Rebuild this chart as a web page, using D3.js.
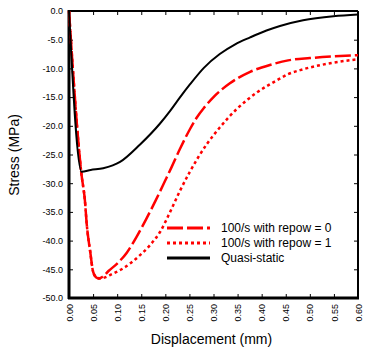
<!DOCTYPE html>
<html>
<head>
<meta charset="utf-8">
<script src="https://cdn.jsdelivr.net/npm/d3@7"></script>
<style>
  body { margin: 0; background: #fff; }
  svg { display: block; font-family: Arial, "Liberation Sans", sans-serif; }
</style>
</head>
<body>
<div id="chart"></div>
<script>
// displacement (mm) / stress (MPa)
const quasiX = [0.000, 0.026, 0.045, 0.071, 0.106, 0.147, 0.189, 0.210, 0.230, 0.251, 0.280, 0.313, 0.345, 0.376, 0.410, 0.438, 0.486, 0.549, 0.600];
const quasiY = [0.0, -28.0, -27.7, -27.4, -26.3, -23.3, -19.6, -17.4, -15.1, -12.8, -9.9, -7.5, -5.8, -4.6, -3.4, -2.6, -1.6, -0.9, -0.6];

const repow0X = [0.000, 0.026, 0.033, 0.037, 0.044, 0.050, 0.056, 0.062, 0.070, 0.082, 0.100, 0.120, 0.140, 0.160, 0.180, 0.200, 0.213, 0.230, 0.251, 0.265, 0.280, 0.300, 0.334, 0.376, 0.417, 0.455, 0.500, 0.550, 0.600];
const repow0Y = [0.0, -28.5, -33.0, -37.3, -41.9, -45.4, -46.4, -46.6, -46.3, -45.3, -44.0, -42.1, -39.4, -36.3, -33.0, -29.5, -27.2, -24.1, -20.6, -18.6, -16.9, -15.0, -12.6, -10.6, -9.4, -8.6, -8.2, -7.9, -7.7];

const repow1X = [0.000, 0.026, 0.033, 0.037, 0.044, 0.050, 0.056, 0.064, 0.075, 0.085, 0.113, 0.144, 0.168, 0.189, 0.210, 0.230, 0.251, 0.286, 0.313, 0.348, 0.390, 0.431, 0.455, 0.480, 0.542, 0.600];
const repow1Y = [0.0, -28.5, -33.0, -37.3, -41.9, -45.4, -46.3, -46.6, -46.4, -46.0, -44.8, -42.8, -40.8, -38.5, -35.0, -31.4, -28.0, -23.2, -20.3, -17.1, -14.2, -12.1, -11.0, -10.3, -9.1, -8.4];

const xTicks = [0, 0.05, 0.1, 0.15, 0.2, 0.25, 0.3, 0.35, 0.4, 0.45, 0.5, 0.55, 0.6];
const yTicks = [0, -5, -10, -15, -20, -25, -30, -35, -40, -45, -50];

const seriesNames = ["100/s with repow = 0", "100/s with repow = 1", "Quasi-static"];

const margin = { top: 11, right: 8, bottom: 55, left: 69 };
const width = 366 - margin.left - margin.right;
const height = 353 - margin.top - margin.bottom;

const svg = d3.select("#chart")
  .append("svg")
  .attr("width", 366)
  .attr("height", 353);

const g = svg.append("g")
  .attr("transform", `translate(${margin.left},${margin.top})`);

const xScale = d3.scaleLinear().domain([0, 0.6]).range([0, width]);
const yScale = d3.scaleLinear().domain([-50, 0]).range([height, 0]);

// axes, ticks point inward
const yAxis = d3.axisLeft(yScale)
  .tickValues(yTicks)
  .tickSize(-4)
  .tickPadding(6)
  .tickFormat(d => d.toFixed(1));

const yAxisG = g.append("g").attr("class", "y-axis").call(yAxis);
yAxisG.select(".domain").remove();
yAxisG.selectAll("text").style("font-size", "9px").attr("fill", "#000");

g.append("g")
  .attr("class", "y-axis-right")
  .attr("transform", `translate(${width},0)`)
  .call(d3.axisRight(yScale).tickValues(yTicks).tickSize(-4).tickFormat(""))
  .select(".domain").remove();

const xAxisG = g.append("g")
  .attr("class", "x-axis")
  .attr("transform", `translate(0,${height})`)
  .call(d3.axisBottom(xScale).tickValues(xTicks).tickSize(-4).tickFormat(d3.format(".2f")));
xAxisG.select(".domain").remove();
xAxisG.selectAll("text")
  .style("font-size", "9px")
  .attr("fill", "#000")
  .attr("transform", "rotate(-90)")
  .attr("x", -6)
  .attr("y", 0)
  .attr("dy", "0.35em")
  .style("text-anchor", "end");

g.append("g")
  .attr("class", "x-axis-top")
  .call(d3.axisTop(xScale).tickValues(xTicks).tickSize(-4).tickFormat(""))
  .select(".domain").remove();

// frame: thicker on left and bottom
g.append("line").attr("x1", 0).attr("x2", width).attr("y1", 0).attr("y2", 0)
  .style("stroke", "#000").style("stroke-width", 2);
g.append("line").attr("x1", width).attr("x2", width).attr("y1", 0).attr("y2", height)
  .style("stroke", "#000").style("stroke-width", 2);
g.append("line").attr("x1", 0).attr("x2", 0).attr("y1", -1).attr("y2", height + 1)
  .style("stroke", "#000").style("stroke-width", 3);
g.append("line").attr("x1", -1).attr("x2", width + 1).attr("y1", height).attr("y2", height)
  .style("stroke", "#000").style("stroke-width", 3);

// axis labels
g.append("text")
  .attr("x", width / 2 - 2)
  .attr("y", height + 46)
  .style("text-anchor", "middle")
  .style("font-size", "14px")
  .text("Displacement (mm)");

g.append("text")
  .attr("transform", "rotate(-90)")
  .attr("x", -144)
  .attr("y", -50)
  .style("text-anchor", "middle")
  .style("font-size", "14px")
  .text("Stress (MPa)");

// curves
const line = d3.line()
  .x(d => xScale(d[0]))
  .y(d => yScale(d[1]))
  .curve(d3.curveMonotoneX);

const series = [
  { name: seriesNames[0], pts: d3.zip(repow0X, repow0Y), color: "#ff0000", dash: "16,4", w: 2.5 },
  { name: seriesNames[1], pts: d3.zip(repow1X, repow1Y), color: "#ff0000", dash: "3,3", w: 2.5 },
  { name: seriesNames[2], pts: d3.zip(quasiX, quasiY), color: "#000000", dash: null, w: 2 }
];

const lineGroup = g.append("g").attr("class", "line-group");
series.forEach(s => {
  lineGroup.append("path")
    .datum(s.pts)
    .attr("d", line)
    .style("fill", "none")
    .style("stroke", s.color)
    .style("stroke-width", s.w)
    .style("stroke-dasharray", s.dash);
});

// legend
const legend = svg.append("g")
  .attr("class", "legend")
  .attr("transform", "translate(167,228)");

const legendItems = legend.selectAll(".legend-item")
  .data(series)
  .enter().append("g")
  .attr("class", "legend-item")
  .attr("transform", (d, i) => `translate(0, ${i * 15})`);

legendItems.append("line")
  .attr("x1", 0)
  .attr("x2", 43)
  .attr("y1", 0)
  .attr("y2", 0)
  .style("stroke", d => d.color)
  .style("stroke-width", 3)
  .style("stroke-dasharray", d => d.dash);

legendItems.append("text")
  .attr("x", 54)
  .attr("y", 0)
  .attr("dy", "0.35em")
  .style("font-size", "12px")
  .text(d => d.name);
</script>
</body>
</html>
